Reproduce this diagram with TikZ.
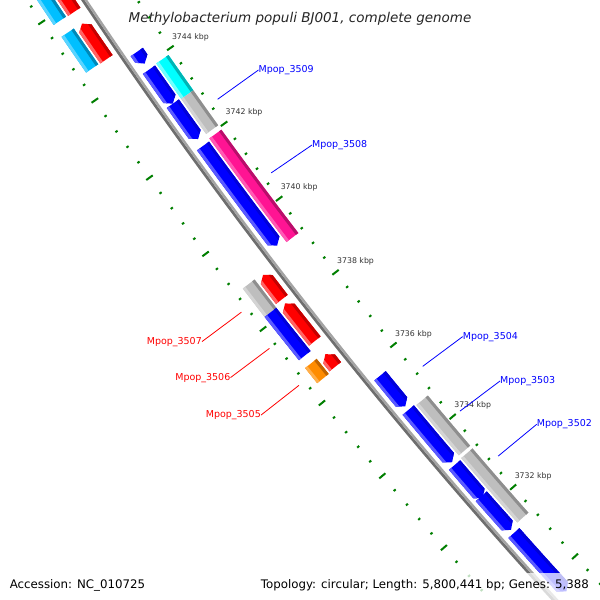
\documentclass[tikz,border=0pt]{standalone}
\usepackage{fontspec}
\setmainfont{DejaVu Sans}
\setsansfont{DejaVu Sans}
\definecolor{tickgreen}{HTML}{007F00}
\definecolor{bbdark}{HTML}{6E6E6E}
\definecolor{bblight}{HTML}{A4A4A4}
\definecolor{fblue}{HTML}{0000FF}\definecolor{fbluel}{HTML}{5A5AFF}\definecolor{fblued}{HTML}{0000D8}
\definecolor{fred}{HTML}{FF0000}\definecolor{fredl}{HTML}{FF6464}\definecolor{fredd}{HTML}{C40000}
\definecolor{fpink}{HTML}{FF1493}\definecolor{fpinkl}{HTML}{FF5AB4}\definecolor{fpinkd}{HTML}{B80E6A}
\definecolor{fcyan}{HTML}{00FFFF}\definecolor{fcyanl}{HTML}{70FFFF}\definecolor{fcyand}{HTML}{00B4B4}
\definecolor{fsky}{HTML}{00BFFF}\definecolor{fskyl}{HTML}{5AD4FF}\definecolor{fskyd}{HTML}{0088B8}
\definecolor{fgray}{HTML}{BEBEBE}\definecolor{fgrayl}{HTML}{D4D4D4}\definecolor{fgrayd}{HTML}{8E8E8E}
\definecolor{forange}{HTML}{FF8C00}\definecolor{forangel}{HTML}{FFAE4A}\definecolor{foranged}{HTML}{C06400}
\definecolor{kbptext}{HTML}{333333}
\def\hw{7.4}\def\hd{0.0682}\def\sw{3}
\newcommand\feat[7]{%
  \pgfmathsetmacro\fa{214.79+(3744-#2)*0.5325}%
  \pgfmathsetmacro\fb{214.79+(3744-#1)*0.5325}%
  \pgfmathsetmacro\fri{#3-\hw}%
  \pgfmathsetmacro\fro{#3+\hw}%
  \def\frm{#3}%
  \pgfmathsetmacro\fc{\fb-\hd}%
  \pgfmathsetmacro\fd{\fa+\hd}%
  \pgfmathsetmacro\faa{\fa-0.3}\pgfmathsetmacro\fbb{\fb+0.3}%
  \pgfmathsetmacro\frl{\fro-\sw}\pgfmathsetmacro\frd{\fri+\sw}%
  \pgfmathsetmacro\froo{\fro+1}\pgfmathsetmacro\frii{\fri-1}%
  \ifcase#7\relax
    \def\featshape{(\fa:\fri pt) arc[start angle=\fa,end angle=\fb,radius=\fri pt] -- (\fb:\fro pt) arc[start angle=\fb,end angle=\fa,radius=\fro pt] -- cycle}%
  \or
    \def\featshape{(\fa:\fri pt) arc[start angle=\fa,end angle=\fc,radius=\fri pt] -- (\fb:\frm pt) -- (\fc:\fro pt) arc[start angle=\fc,end angle=\fa,radius=\fro pt] -- cycle}%
  \or
    \def\featshape{(\fd:\fri pt) arc[start angle=\fd,end angle=\fb,radius=\fri pt] -- (\fb:\fro pt) arc[start angle=\fb,end angle=\fd,radius=\fro pt] -- (\fa:\frm pt) -- cycle}%
  \fi
  \fill[#4] \featshape;
  \begin{scope}
    \clip \featshape;
    \fill[#5] (\faa:\frl pt) arc[start angle=\faa,end angle=\fbb,radius=\frl pt] -- (\fbb:\froo pt) arc[start angle=\fbb,end angle=\faa,radius=\froo pt] -- cycle;
    \fill[#6] (\faa:\frii pt) arc[start angle=\faa,end angle=\fbb,radius=\frii pt] -- (\fbb:\frd pt) arc[start angle=\fbb,end angle=\faa,radius=\frd pt] -- cycle;
  \end{scope}
}
\begin{document}
\begin{tikzpicture}[x=1pt,y=1pt,
  majtick/.style={tickgreen,line width=2pt},
  mintick/.style={tickgreen,line width=2pt},
  kbp/.style={text=kbptext,font=\fontsize{7.8}{9}\selectfont,inner sep=0pt},
  rlab/.style={text=fblue,font=\fontsize{9.5}{11}\selectfont,inner sep=0pt},
  llab/.style={text=fred,font=\fontsize{9.5}{11}\selectfont,inner sep=0pt},
  rline/.style={fblue,line width=0.8pt},
  lline/.style={fred,line width=0.8pt},
  infotext/.style={text=black,font=\fontsize{11.8}{14}\selectfont,inner sep=0pt},
  titletext/.style={text=black!85,font=\fontsize{13.5}{16}\selectfont\itshape,inner sep=0pt},
  veil/.style={fill=white,opacity=0.75}]
\useasboundingbox (0,0) rectangle (600,-600);
\fill[white] (0,0) rectangle (600,-600);
\clip (0,0) rectangle (600,-600);
\begin{scope}[shift={(4274,2803)}]
  % backbone
  \draw[bbdark,line width=2.8pt] (212.5:5042.4pt) arc[start angle=212.5,end angle=223.5,radius=5042.4pt];
  \draw[bblight,line width=2.4pt] (212.5:5039.8pt) arc[start angle=212.5,end angle=223.5,radius=5039.8pt];
  % ticks
  \foreach \i in {0,...,49}{
    \pgfmathsetmacro\ta{214.79+(16-0.4*\i)*0.5325}
    \pgfmathtruncatemacro\ismaj{mod(\i,5)==0}
    \coordinate (rt\i) at (\ta:4997pt);
    \ifnum\ismaj=1
      \draw[majtick] (\ta:4993pt) -- (\ta:5001pt);
      \draw[majtick] (\ta:5085pt) -- (\ta:5093pt);
    \else
      \draw[mintick] (\ta:4995.7pt) -- (\ta:4998.3pt);
      \draw[mintick] (\ta:5087.7pt) -- (\ta:5090.3pt);
    \fi
  }
  % inner track 1 (reverse, blue)
  \feat{3744.04}{3744.34}{5027}{fblue}{fbluel}{fblued}{1}
  \feat{3742.99}{3743.88}{5027}{fblue}{fbluel}{fblued}{1}
  \feat{3742.06}{3742.99}{5027}{fblue}{fbluel}{fblued}{1}
  \feat{3739.22}{3741.88}{5027}{fblue}{fbluel}{fblued}{1}
  \feat{3734.82}{3735.67}{5027}{fblue}{fbluel}{fblued}{1}
  \feat{3733.26}{3734.72}{5027}{fblue}{fbluel}{fblued}{1}
  \feat{3732.25}{3733.18}{5027}{fblue}{fbluel}{fblued}{1}
  \feat{3731.34}{3732.30}{5027}{fblue}{fbluel}{fblued}{1}
  \feat{3729.57}{3731.25}{5027}{fblue}{fbluel}{fblued}{1}
  % inner track 2
  \feat{3742.97}{3743.90}{5010}{fcyan}{fcyanl}{fcyand}{0}
  \feat{3742.05}{3742.97}{5010}{fgray}{fgrayl}{fgrayd}{0}
  \feat{3739.16}{3741.93}{5010}{fpink}{fpinkl}{fpinkd}{0}
  \feat{3733.28}{3734.69}{5010}{fgray}{fgrayl}{fgrayd}{0}
  \feat{3731.37}{3733.20}{5010}{fgray}{fgrayl}{fgrayd}{0}
  % outer track 1 (forward, red)
  \feat{3745.80}{3748.00}{5056}{fred}{fredl}{fredd}{0}
  \feat{3744.58}{3745.50}{5056}{fred}{fredl}{fredd}{2}
  \feat{3738.25}{3738.91}{5056}{fred}{fredl}{fredd}{2}
  \feat{3737.12}{3738.14}{5056}{fred}{fredl}{fredd}{2}
  \feat{3736.42}{3736.76}{5056}{fred}{fredl}{fredd}{2}
  % outer track 2
  \feat{3745.81}{3748.00}{5073}{fsky}{fskyl}{fskyd}{0}
  \feat{3744.59}{3745.51}{5073}{fsky}{fskyl}{fskyd}{0}
  \feat{3738.18}{3738.94}{5073}{fgray}{fgrayl}{fgrayd}{0}
  \feat{3737.01}{3738.18}{5073}{fblue}{fbluel}{fblued}{0}
  \feat{3736.39}{3736.80}{5073}{forange}{forangel}{foranged}{0}
  % label anchor points
  \coordinate (c3509) at ({214.79+(3744-3742.51)*0.5325}:4988pt);
  \coordinate (c3508) at ({214.79+(3744-3740.545)*0.5325}:4988pt);
  \coordinate (c3504) at ({214.79+(3744-3735.245)*0.5325}:4988pt);
  \coordinate (c3503) at ({214.79+(3744-3733.99)*0.5325}:4988pt);
  \coordinate (c3502) at ({214.79+(3744-3732.715)*0.5325}:4988pt);
  \coordinate (c3507) at ({214.79+(3744-3738.56)*0.5325}:5096pt);
  \coordinate (c3506) at ({214.79+(3744-3737.595)*0.5325}:5096pt);
  \coordinate (c3505) at ({214.79+(3744-3736.595)*0.5325}:5096pt);
\end{scope}
% kbp labels
\node[kbp] (k3744) at ([shift={(20,11)}]rt40) {3744 kbp};
\node[kbp] (k3742) at ([shift={(20,11)}]rt35) {3742 kbp};
\node[kbp] (k3740) at ([shift={(20,11)}]rt30) {3740 kbp};
\node[kbp] (k3738) at ([shift={(20,11)}]rt25) {3738 kbp};
\node[kbp] (k3736) at ([shift={(20,11)}]rt20) {3736 kbp};
\node[kbp] (k3734) at ([shift={(20,11)}]rt15) {3734 kbp};
\node[kbp] (k3732) at ([shift={(20,11)}]rt10) {3732 kbp};
% gene labels
\node[rlab,anchor=base west] (l3509) at (258.5,-72.4) {Mpop\_3509};
\node[rlab,anchor=base west] (l3508) at (312,-147.4) {Mpop\_3508};
\node[rlab,anchor=base west] (l3504) at (462.7,-339) {Mpop\_3504};
\node[rlab,anchor=base west] (l3503) at (500,-383.4) {Mpop\_3503};
\node[rlab,anchor=base west] (l3502) at (536.7,-426.7) {Mpop\_3502};
\node[llab,anchor=base east] (l3507) at (202,-344) {Mpop\_3507};
\node[llab,anchor=base east] (l3506) at (230.5,-380) {Mpop\_3506};
\node[llab,anchor=base east] (l3505) at (261,-417.5) {Mpop\_3505};
\draw[rline] (l3509.west) -- (c3509);
\draw[rline] (l3508.west) -- (c3508);
\draw[rline] (l3504.west) -- (c3504);
\draw[rline] (l3503.west) -- (c3503);
\draw[rline] (l3502.west) -- (c3502);
\draw[lline] (l3507.east) -- (c3507);
\draw[lline] (l3506.east) -- (c3506);
\draw[lline] (l3505.east) -- (c3505);
% info boxes and texts
\fill[veil] (5,-573) rectangle (147,-600);
\fill[veil] (257,-573) rectangle (594,-600);
\node[infotext,anchor=base west] (acc) at (9.6,-588) {Accession: NC\_010725};
\node[infotext,anchor=base east] (topo) at (589,-588) {Topology: circular; Length: 5,800,441 bp; Genes: 5,388};
\node[titletext,anchor=base] (title) at (300,-22.7) {Methylobacterium populi BJ001, complete genome};
\end{tikzpicture}
\end{document}
